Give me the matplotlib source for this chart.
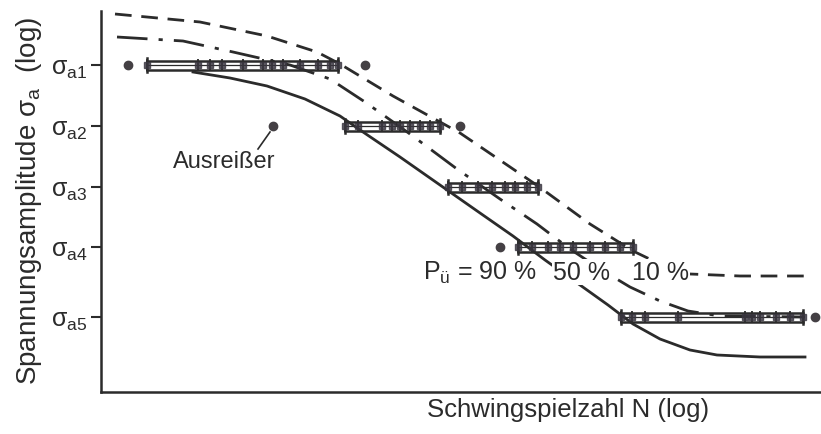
import matplotlib
matplotlib.use("Agg")
import matplotlib.pyplot as plt

plt.rcParams["font.family"] = ["Liberation Sans", "DejaVu Sans"]
plt.rcParams["mathtext.fontset"] = "custom"
plt.rcParams["mathtext.rm"] = "Liberation Sans"
plt.rcParams["mathtext.it"] = "Liberation Sans"
plt.rcParams["mathtext.bf"] = "Liberation Sans:bold"

INK = "#2b2b2b"

# Lasthorizonte (log sigma_a, relative Einheiten)
levels = [3.27, 2.66, 2.05, 1.45, 0.75]
level_labels = [r"$\sigma_{\mathrm{a1}}$", r"$\sigma_{\mathrm{a2}}$", r"$\sigma_{\mathrm{a3}}$",
                r"$\sigma_{\mathrm{a4}}$", r"$\sigma_{\mathrm{a5}}$"]

# Bruchschwingspielzahlen je Horizont (log N, relativ)
n_a1 = [0.46, 0.97, 1.09, 1.21, 1.42, 1.62, 1.71, 1.82, 1.99, 2.17, 2.29, 2.37]
n_a2 = [2.44, 2.57, 2.81, 2.91, 2.99, 3.09, 3.19, 3.29, 3.39]
n_a3 = [3.47, 3.61, 3.77, 3.91, 4.04, 4.14, 4.26, 4.37]
n_a4 = [4.17, 4.31, 4.47, 4.59, 4.72, 4.89, 5.04, 5.19, 5.32]
n_a5 = [5.20, 5.31, 5.44, 5.77, 6.44, 6.51, 6.59, 6.75, 6.89, 7.02]
samples = [n_a1, n_a2, n_a3, n_a4, n_a5]

# Einzelpunkte ausserhalb der Streubaender
single_n = [0.27, 2.64, 1.72, 3.59, 3.99, 7.14]
single_lvl = [0, 0, 1, 1, 3, 4]

# Woehlerlinien fuer P_ue = 10 %, 50 %, 90 %
p10_n = [0.14, 0.99, 1.66, 2.16, 2.39, 2.92, 3.59, 4.12, 4.37, 4.89, 5.32, 5.59, 5.89, 6.39, 7.04]
p10_s = [3.78, 3.70, 3.56, 3.40, 3.28, 2.96, 2.59, 2.23, 2.06, 1.68, 1.41, 1.28, 1.18, 1.16, 1.16]

p50_n = [0.16, 0.82, 1.32, 1.89, 2.29, 2.64, 3.09, 3.56, 3.99, 4.36, 4.69, 4.99, 5.29, 5.59, 5.87, 6.19, 7.04]
p50_s = [3.55, 3.51, 3.40, 3.27, 3.13, 2.90, 2.58, 2.23, 1.93, 1.68, 1.43, 1.23, 1.05, 0.91, 0.81, 0.76, 0.75]

p90_n = [0.92, 1.29, 1.66, 2.04, 2.39, 2.62, 2.99, 3.49, 3.79, 4.12, 4.44, 4.72, 5.07, 5.32, 5.59, 5.89, 6.16, 6.59, 7.04]
p90_s = [3.20, 3.14, 3.06, 2.93, 2.76, 2.60, 2.35, 2.00, 1.79, 1.56, 1.32, 1.12, 0.87, 0.68, 0.53, 0.42, 0.37, 0.35, 0.35]


def streuband(ax, xs, y):
    x0, x1 = min(xs), max(xs)
    h = 0.045
    for dy, lw in [(-h, 1.8), (0, 0.9), (h, 1.8)]:
        ax.plot([x0, x1], [y + dy, y + dy], color=INK, lw=lw, zorder=4)
    for xe in (x0, x1):
        ax.plot([xe, xe], [y - 1.6 * h, y + 1.6 * h], color=INK, lw=1.8, zorder=4)
    ax.plot(xs, [y] * len(xs), ls="none", marker="|", ms=9, mew=1.3, color=INK, zorder=5)
    ax.plot(xs, [y] * len(xs), ls="none", marker="s", ms=4.5, color="#3a3640", alpha=0.8, zorder=5)


fig = plt.figure(figsize=(8.21, 4.35), dpi=100)
ax = fig.add_axes([101 / 821, 42 / 435, 720 / 821, 381 / 435])
ax.set_xlim(0, 7.2)
ax.set_ylim(0, 3.81)

ax.plot(p10_n, p10_s, color=INK, lw=2, dashes=(6, 3.5), zorder=3)
ax.plot(p50_n, p50_s, color=INK, lw=2, dashes=(11, 4, 1.5, 4), zorder=3)
ax.plot(p90_n, p90_s, color=INK, lw=2, zorder=3)

for xs, y in zip(samples, levels):
    streuband(ax, xs, y)

ax.plot(single_n, [levels[i] for i in single_lvl], ls="none", marker="o", ms=6,
        color="#444044", zorder=6)

# Ausreisser mit Hinweislinie
ax.plot([1.57, 1.69], [2.43, 2.60], color=INK, lw=1.2)
ax.text(1.23, 2.31, "Ausreißer", fontsize=17, ha="center", va="center", color=INK)

# Ueberlebenswahrscheinlichkeiten
ax.text(4.36, 1.20, r"$\mathrm{P}_{\mathrm{ü}}$ = 90 %", fontsize=18, ha="right", va="center",
        color=INK, zorder=7)
ax.text(4.80, 1.20, "50 %", fontsize=18, ha="center", va="center", color=INK, zorder=7,
        bbox=dict(fc="white", ec="none", pad=0.5))
ax.text(5.31, 1.20, "10 %", fontsize=18, ha="left", va="center", color=INK, zorder=7,
        bbox=dict(fc="white", ec="none", pad=0.5))

for side in ("top", "right"):
    ax.spines[side].set_visible(False)
for side in ("left", "bottom"):
    ax.spines[side].set_linewidth(1.8)
    ax.spines[side].set_color(INK)

ax.set_xticks([])
ax.set_yticks(levels)
ax.set_yticklabels(level_labels, fontsize=18, color=INK)
ax.tick_params(axis="y", direction="out", length=7, width=1.5, color=INK, pad=3)

ax.text(0.649, -0.045, "Schwingspielzahl N (log)", transform=ax.transAxes, fontsize=18.5,
        ha="center", va="center", color=INK)
ax.text(-0.100, 0.505, r"Spannungsamplitude $\sigma_{\mathrm{a}}$  (log)", transform=ax.transAxes,
        fontsize=20, ha="center", va="center", rotation=90, color=INK)

fig.savefig("out.png", dpi=100)
